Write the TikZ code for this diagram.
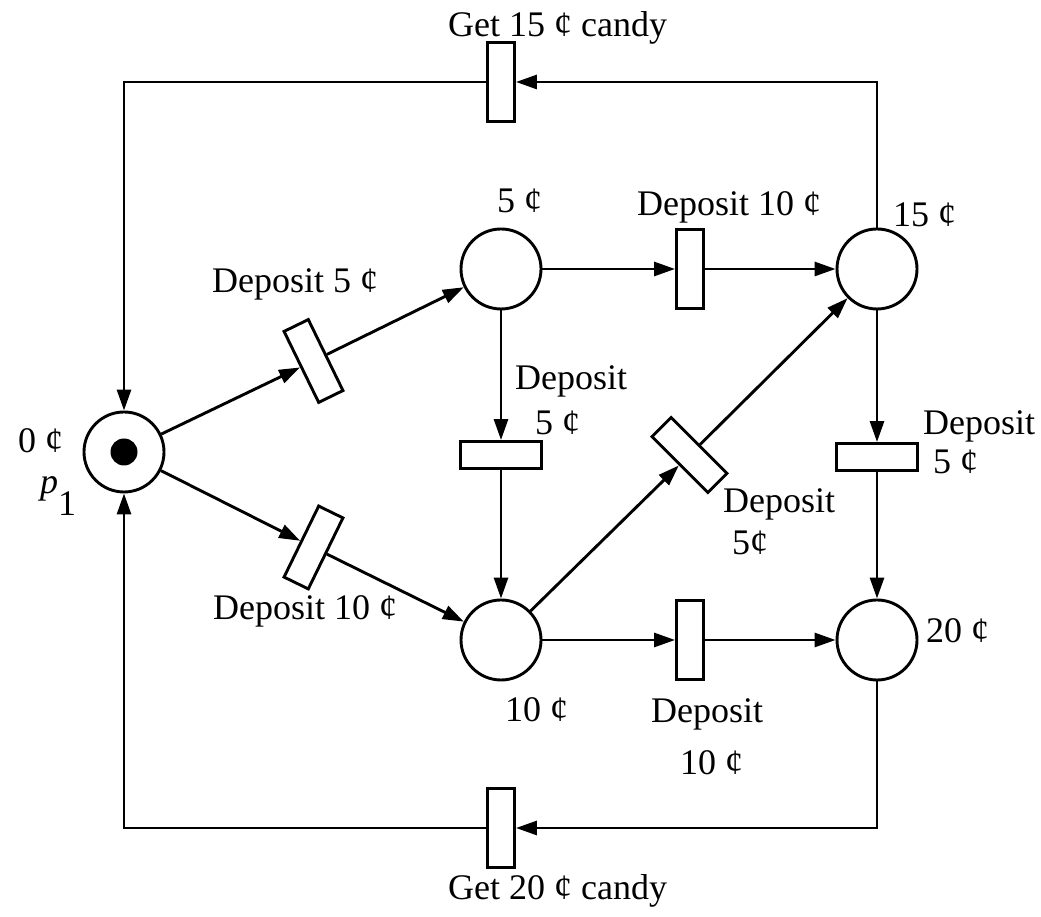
\documentclass[tikz,border=0pt]{standalone}
\usepackage{fontspec}
\setmainfont{Liberation Serif}
\usetikzlibrary{arrows.meta}
\begin{document}
\begin{tikzpicture}[x=1pt,y=1pt,
  lw/.style={line width=2.9pt},
  place/.style={circle,draw,lw,minimum size=80pt,inner sep=0pt},
  vtrans/.style={rectangle,draw,lw,minimum width=27pt,minimum height=79pt,inner sep=0pt},
  htrans/.style={rectangle,draw,lw,minimum width=81pt,minimum height=27pt,inner sep=0pt},
  arc/.style={lw,-{Triangle[length=21pt,width=14pt]}},
  lbl/.style={font=\fontsize{36}{40}\selectfont,inner sep=0pt,anchor=base west}]
\useasboundingbox (0,0) rectangle (1041,917);
% places
\node[place] (p1) at (124,465) {};
\node[circle,fill,minimum size=27pt,inner sep=0pt] (tok) at (p1) {};
\node[place] (c5) at (501,648) {};
\node[place] (c15) at (877,648) {};
\node[place] (c10) at (501,277) {};
\node[place] (c20) at (877,277) {};
% transitions
\node[vtrans] (tg15) at (501,835) {};
\node[vtrans] (tg20) at (501,89) {};
\node[vtrans] (td10a) at (690,648) {};
\node[vtrans] (td10b) at (690,277) {};
\node[htrans] (td5v) at (501,462) {};
\node[htrans] (td5r) at (877,460) {};
\node[vtrans,rotate=26] (td5a) at (313.5,556) {};
\node[vtrans,rotate=-26] (td10c) at (313.5,369.5) {};
\node[vtrans,rotate=45] (td5m) at (689.5,462) {};
% arcs
\draw[arc] (c15) |- (tg15);
\draw[arc] (tg15) -| (p1);
\draw[arc] (c20) |- (tg20);
\draw[arc] (tg20) -| (p1);
\draw[arc] (p1) -- (td5a);
\draw[arc] (td5a) -- (c5);
\draw[arc] (p1) -- (td10c);
\draw[arc] (td10c) -- (c10);
\draw[arc] (c5) -- (td10a);
\draw[arc] (td10a) -- (c15);
\draw[arc] (c5) -- (td5v);
\draw[arc] (td5v) -- (c10);
\draw[arc] (c10) -- (td5m);
\draw[arc] (td5m) -- (c15);
\draw[arc] (c15) -- (td5r);
\draw[arc] (td5r) -- (c20);
\draw[arc] (c10) -- (td10b);
\draw[arc] (td10b) -- (c20);
% labels
\node[lbl] (lg15) at (448,880) {Get 15 ¢ candy};
\node[lbl] (lg20) at (448,17) {Get 20 ¢ candy};
\node[lbl] (l5) at (497,704) {5 ¢};
\node[lbl] (l15) at (893,690) {15 ¢};
\node[lbl] (l10) at (505,195) {10 ¢};
\node[lbl] (l20) at (926,274) {20 ¢};
\node[lbl] (l0) at (18,464) {0 ¢};
\node[lbl] (lp1) at (40,423) {\textit{p}\raisebox{-22pt}{1}};
\node[lbl] (ld10a) at (637,701) {Deposit 10 ¢};
\node[lbl] (ld5a) at (212,624) {Deposit 5 ¢};
\node[lbl] (ld10c) at (213,297) {Deposit 10 ¢};
\node[lbl] (ld5v) at (515,527) {Deposit};
\node[lbl] (ld5vb) at (535,482) {5 ¢};
\node[lbl] (ld5r) at (923,482) {Deposit};
\node[lbl] (ld5rb) at (933,443) {5 ¢};
\node[lbl] (ld5m) at (723,404) {Deposit};
\node[lbl] (ld5mb) at (732,362) {5¢};
\node[lbl] (ld10b) at (651,194) {Deposit};
\node[lbl] (ld10bb) at (680,142) {10 ¢};
\end{tikzpicture}
\end{document}
